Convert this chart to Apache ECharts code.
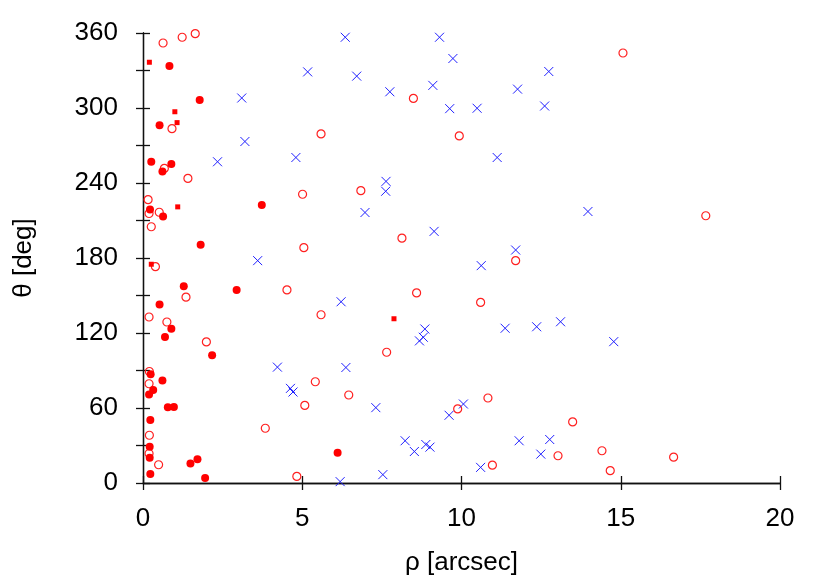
<!DOCTYPE html>
<html>
<head>
<meta charset="utf-8">
<script src="https://cdn.jsdelivr.net/npm/echarts@6/dist/echarts.min.js"></script>
<style>html,body{margin:0;padding:0;background:#fff}#c{width:830px;height:581px}</style>
</head>
<body>
<div id="c"></div>
<script>
const xTicks = [0, 5, 10, 15, 20];
const yTicks = [0, 60, 120, 180, 240, 300, 360];

const openCircles = [
  [1.64,359.5],[1.23,356.6],[0.63,352],[0.91,283.5],[0.67,251.7],[1.41,243.7],[0.16,226.7],[0.19,215.6],[0.51,216.6],[0.26,205],
  [0.39,173.1],[1.35,148.7],[0.19,132.8],[0.75,128.8],[1.99,112.9],[0.20,89.2],[0.19,79.4],[3.84,43.8],[0.20,38.2],[0.19,23.6],[0.49,14.6],
  [8.49,307.7],[5.59,279.3],[9.93,277.7],[5.01,231],[6.84,233.9],[8.13,195.9],[5.05,188.3],[11.70,177.9],
  [4.52,154.5],[8.59,152.1],[10.60,144.5],[5.59,134.6],[7.65,104.6],[5.41,81.0],[6.46,70.4],[5.08,62.1],[9.88,59.3],[10.83,68],[4.83,5.3],[10.97,14.3],
  [15.07,344],[17.67,213.8],[13.49,48.9],[13.03,21.8],[14.41,25.8],[14.67,9.9],[16.66,20.7]
];
const filledCircles = [
  [0.83,333.7],[1.78,306.4],[0.52,286.2],[0.26,257],[0.89,255.2],[0.61,249.3],[0.22,218.8],[0.63,213.2],[3.73,222.5],[1.81,190.7],
  [1.28,157.5],[2.94,154.5],[0.52,142.9],[0.89,123.5],[0.69,116.8],[2.17,102.3],[0.24,87.1],[0.61,82.0],[0.32,74.4],[0.19,70.9],
  [0.78,60.6],[0.97,60.8],[0.23,50.5],[0.21,29],[0.21,20.2],[1.49,15.7],[1.71,19.1],[0.23,7.2],[1.95,4.0],[6.11,24.2]
];
const squares = [
  [0.20,336.6],[1.0,297],[1.07,288.3],[1.09,220.9],[0.26,175],[7.88,131.4]
];
const crosses = [
  [3.10,308],[3.20,273.2],[2.34,257],[3.60,177.9],
  [6.35,356.6],[9.31,356.6],[9.73,339.6],[5.17,328.9],[6.71,325.5],[9.10,318.1],[7.75,313],[11.76,315.1],[9.63,299.5],[10.49,299.8],
  [4.80,260.4],[11.12,260.4],[7.63,241.3],[7.62,233.4],[6.97,216.4],[9.14,201.3],[11.70,186.4],
  [10.62,173.9],[6.22,145],[11.37,123.8],[8.85,123.2],[8.80,116.6],[8.68,113.7],[4.22,92.7],[6.37,92.4],[4.63,75.7],[4.71,72.8],
  [7.31,60.3],[9.61,54.2],[10.06,63.2],[8.23,33.8],[8.52,25.2],[8.88,30.8],[9.01,28.7],[11.81,33.8],[7.53,6.7],[6.19,1.1],[10.60,12.5],
  [12.74,329.2],[12.61,301.6],[13.97,217.2],[12.36,125],[13.11,129],[14.78,113.1],[12.77,34.8],[12.49,23.1]
];

const FONT = 'Liberation Sans, Arial, sans-serif';
const axisLine = {show: true, lineStyle: {color: '#111', width: 1.3}};
const axisTick = {show: true, inside: false, length: 7, lineStyle: {color: '#111', width: 1.3}};

const chart = echarts.init(document.getElementById('c'), null, {renderer: 'canvas'});
const xBase = {
  type: 'value', min: xTicks[0], max: xTicks[xTicks.length - 1], interval: 5,
  axisLine, axisTick, splitLine: {show: false}
};
const yBase = {
  type: 'value', min: yTicks[0], max: yTicks[yTicks.length - 1], interval: 30,
  axisLine, axisTick, splitLine: {show: false}
};
chart.setOption({
  animation: false,
  backgroundColor: '#fff',
  grid: {left: 143, right: 50, top: 33, bottom: 96},
  xAxis: [
    Object.assign({}, xBase, {
      position: 'bottom',
      name: 'ρ [arcsec]', nameLocation: 'middle', nameGap: 67,
      nameTextStyle: {fontFamily: FONT, fontSize: 26, color: '#000'},
      axisLabel: {fontFamily: FONT, fontSize: 26, color: '#000', margin: 23}
    }),
    Object.assign({}, xBase, {position: 'top', axisLabel: {show: false}})
  ],
  yAxis: [
    Object.assign({}, yBase, {
      position: 'left',
      name: 'θ [deg]', nameLocation: 'middle', nameGap: 106,
      nameTextStyle: {fontFamily: FONT, fontSize: 26, color: '#000'},
      axisLabel: {
        fontFamily: FONT, fontSize: 26, color: '#000', margin: 25,
        formatter: v => (yTicks.indexOf(v) >= 0 ? String(v) : '')
      }
    }),
    Object.assign({}, yBase, {position: 'right', axisLabel: {show: false}})
  ],
  series: [
    {
      type: 'scatter', data: openCircles, symbol: 'circle', symbolSize: 8,
      itemStyle: {color: 'rgba(0,0,0,0)', borderColor: '#ff2020', borderWidth: 1.2, opacity: 1}
    },
    {
      type: 'scatter', data: filledCircles, symbol: 'circle', symbolSize: 8,
      itemStyle: {color: '#ff0000', opacity: 1}
    },
    {
      type: 'scatter', data: squares, symbol: 'rect', symbolSize: 5,
      itemStyle: {color: '#ff0000', opacity: 1}
    },
    {
      type: 'scatter', data: crosses, symbol: 'path://M0,0L10,10M10,0L0,10', symbolSize: 9,
      itemStyle: {color: 'rgba(0,0,0,0)', borderColor: '#2020ff', borderWidth: 1, opacity: 1}
    }
  ]
});
</script>
</body>
</html>
